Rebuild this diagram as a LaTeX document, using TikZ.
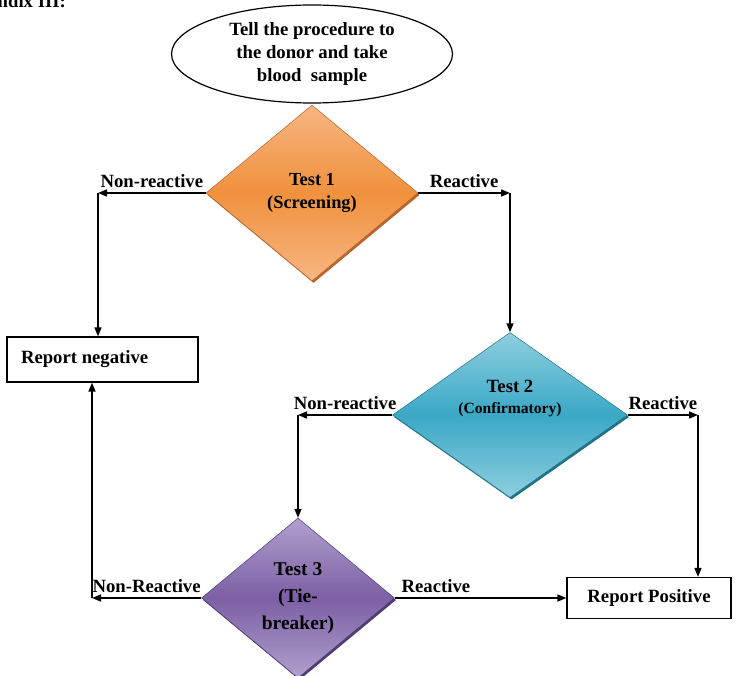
\documentclass[tikz,border=0pt]{standalone}
\usepackage{fontspec}
\setmainfont{Liberation Serif}
\usetikzlibrary{arrows.meta,shapes.geometric,shadows}
\definecolor{orangemid}{HTML}{F0913D}
\definecolor{orangelight}{HTML}{F6B683}
\definecolor{orangeedge}{HTML}{B8642A}
\definecolor{tealmid}{HTML}{3AA8C5}
\definecolor{teallight}{HTML}{8FCEDF}
\definecolor{tealedge}{HTML}{1E7389}
\definecolor{purplemid}{HTML}{7C5FA4}
\definecolor{purplelight}{HTML}{B0A0CE}
\definecolor{purpleedge}{HTML}{4F3C73}

\begin{document}
\begin{tikzpicture}[x=1pt, y=-1pt, line width=1.5pt,
    font=\bfseries\fontsize{18.7}{23}\selectfont,
    arr/.style={-{Triangle[length=9pt,width=7pt]}},
    lbl/.style={above, inner sep=4.5pt},
    testbox/.style n args={3}{diamond, inner sep=0pt, align=center,
        top color=#2, bottom color=#2, middle color=#1,
        draw=#3, line width=0.5pt,
        general shadow={fill=#3, shadow xshift=1.5pt, shadow yshift=-2pt}},
    report/.style={draw, line width=1.2pt}]
    \useasboundingbox (0,0) rectangle (736,676);
    % heading (cut at the page edge)
    \node[anchor=base west, inner sep=0pt] (head) at (-3,8) {ndix III:};
    % start
    \node[ellipse, draw, line width=1.2pt, minimum width=281pt, minimum height=98pt,
        align=center, inner sep=0pt] (start) at (312,54)
        {Tell the procedure to\\the donor and take\\blood~ sample};
    % tests
    \node[testbox={orangemid}{orangelight}{orangeedge}, minimum width=212pt,
        minimum height=176pt, font=\bfseries\fontsize{18.4}{23}\selectfont]
        (testone) at (312,193) {Test 1\\(Screening)};
    \node[testbox={tealmid}{teallight}{tealedge}, minimum width=235pt,
        minimum height=165pt] (testtwo) at (510,415) {};
    \node[align=center, inner sep=0pt] (testtwotext) at (510,398)
        {Test 2\\[-2pt]{\fontsize{15.6}{19}\selectfont(Confirmatory)}};
    \node[testbox={purplemid}{purplelight}{purpleedge}, minimum width=193pt,
        minimum height=160pt, font=\bfseries\fontsize{19.5}{27}\selectfont]
        (testthree) at (298,598) {Test 3\\(Tie-\\breaker)};
    % reports
    \node[report, inner xsep=14pt, minimum height=45pt] (neg) at (102.5,359.5)
        {\makebox[163pt][l]{Report negative}};
    \node[report, minimum width=164pt, minimum height=41pt] (pos) at (649,598)
        {Report Positive};
    % corners
    \coordinate (nrone) at (98,193);
    \coordinate (rone) at (510,193);
    \coordinate (nrtwo) at (298,415);
    \coordinate (rtwo) at (698,415);
    \coordinate (nrthree) at (92,598);
    % arrows
    \path[draw, arr] (testone.west) -- node[lbl]{Non-reactive} (nrone);
    \path[draw, arr] (nrone) -- (nrone |- neg.north);
    \path[draw, arr] (testone.east) -- node[lbl]{Reactive} (rone);
    \path[draw, arr] (rone) -- (testtwo.north);
    \path[draw, arr] (testtwo.west) -- node[lbl]{Non-reactive} (nrtwo);
    \path[draw, arr] (nrtwo) -- (testthree.north);
    \path[draw, arr] (testtwo.east) -- node[lbl]{Reactive} (rtwo);
    \path[draw, arr] (rtwo) -- (rtwo |- pos.north);
    \path[draw, arr] (testthree.west) -- node[lbl]{Non-Reactive} (nrthree);
    \path[draw, arr] (nrthree) -- (nrthree |- neg.south);
    \path[draw, arr] (testthree.east) -- node[lbl, pos=0.24]{Reactive} (pos.west);
\end{tikzpicture}
\end{document}
